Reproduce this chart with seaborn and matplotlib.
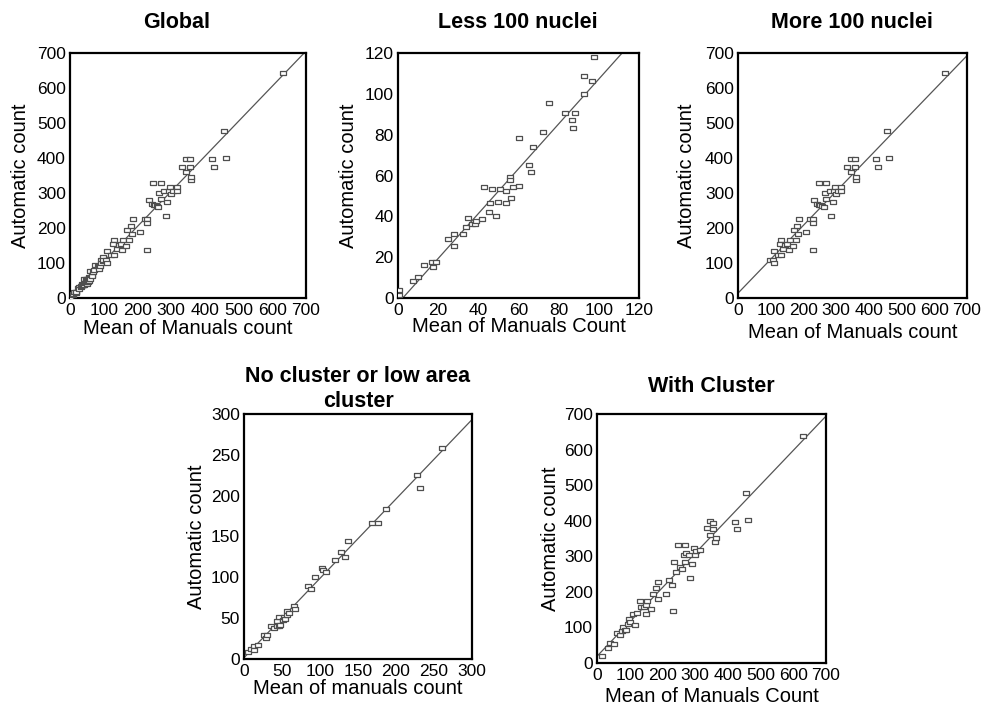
import numpy as np
import pandas as pd
import matplotlib
matplotlib.use("Agg")
import matplotlib.pyplot as plt
import seaborn as sns

sns.set_theme(style="white")
plt.rcParams["font.family"] = ["Liberation Sans", "DejaVu Sans"]

# Samples with fewer than 100 nuclei: mean manual count vs automatic count
less_manual = [0.5, 0.5, 7.5, 10, 12.8, 17, 17.6, 19, 25, 28, 28, 32.5, 34, 35, 37,
               38.5, 39, 42, 43, 45.3, 46, 47, 49, 49.8, 50.6, 53.8, 54, 55.6, 55.6,
               56.3, 57.3, 60, 60.4, 65, 66, 67.4, 72, 75, 83.3, 86.6, 87.3, 88, 92.6,
               92.6, 96.4, 97.4]
less_auto = [3.8, 1.3, 8.3, 10.3, 16, 17.6, 15.2, 17.6, 29, 31.5, 25.5, 31.5, 35, 39,
             36.4, 36.4, 37.5, 38.5, 54.4, 42, 46.5, 53.2, 40, 47, 53.2, 46.5, 52.4,
             59.3, 57.6, 49, 54.4, 54.9, 78.2, 65.3, 61.7, 74, 81.3, 95.5, 90.6, 87.3,
             83.3, 90.6, 108.6, 100, 106.4, 118]

# Samples with more than 100 nuclei
more_manual = [99, 106, 111, 109, 121, 131, 131, 129, 138, 145, 150, 155, 158, 167,
               170, 176, 180, 184, 187, 209, 221, 229, 229, 228, 233, 242, 247, 249,
               252, 257, 262, 265, 270, 270, 280, 284, 289, 293, 298, 300, 306, 316,
               316, 333, 344, 345, 357, 357, 360, 360, 422, 427, 463, 456, 632]
more_auto = [108, 108, 100, 135, 124, 122, 167, 153, 140, 151, 154, 137, 167, 149,
             194, 167, 206, 184, 225, 189, 227, 227, 215, 138, 280, 270, 330, 265,
             265, 264, 261, 299, 330, 283, 307, 235, 275, 306, 318, 297, 307, 318,
             306, 375, 359, 396, 396, 375, 337, 347, 396, 375, 401, 478, 643]

# Samples without cluster or with low-area cluster
nocl_manual = [5, 9, 13, 13, 19, 26, 29, 30, 35, 39, 43, 44, 46, 46, 48, 51, 53, 54,
               56, 57, 59, 66, 67, 84, 88, 93, 102, 104, 108, 120, 128, 133, 137, 168,
               176, 187, 228, 231, 260]
nocl_auto = [8, 12, 16, 11, 17, 29, 26, 30, 40, 38, 40, 46, 52, 40, 42, 48, 52, 49,
             59, 54, 56, 65, 61, 90, 86, 101, 111, 109, 106, 121, 131, 125, 144, 167,
             167, 184, 225, 210, 258]

# Samples with cluster
clus_manual = [15, 35, 41, 53, 61, 69, 76, 78, 85, 90, 96, 98, 100, 110, 115, 122,
               131, 134, 143, 149, 151, 153, 166, 171, 180, 185, 187, 210, 220, 228,
               231, 235, 243, 249, 253, 261, 268, 265, 268, 273, 282, 284, 289, 296,
               301, 304, 314, 335, 345, 346, 356, 356, 361, 363, 421, 427, 462, 454,
               631]
clus_auto = [19, 43, 55, 53, 83, 78, 89, 102, 92, 94, 111, 125, 116, 139, 106, 141,
             174, 158, 158, 164, 139, 174, 153, 195, 210, 181, 228, 194, 233, 219,
             146, 283, 257, 332, 271, 263, 332, 304, 285, 309, 304, 238, 278, 322,
             304, 315, 318, 379, 398, 359, 393, 377, 341, 351, 396, 377, 402, 479,
             639]

global_manual = less_manual + more_manual
global_auto = less_auto + more_auto

W, H = 983, 709
fig = plt.figure(figsize=(W / 100, H / 100), dpi=100)

MARK = "#4f4f4f"
LINE = "#555555"
# slightly wide open rectangle marker
RECT = [(-1.35, -1.0), (1.35, -1.0), (1.35, 1.0), (-1.35, 1.0), (-1.35, -1.0)]


def box(l, r, t, b):
    return [l / W, 1 - b / H, (r - l) / W, (b - t) / H]


panels = [
    # title, xlabel, x, y, lim, step, (l, r, t, b), title centre (x, y), xlabel y, ylabel x
    ("Global", "Mean of Manuals count", global_manual, global_auto, 700, 100,
     (70, 306, 53, 298), (177, 23), 329, 21),
    ("Less 100 nuclei", "Mean of Manuals Count", less_manual, less_auto, 120, 20,
     (398, 639, 53, 298), (518, 23), 327, 348),
    ("More 100 nuclei", "Mean of Manuals count", more_manual, more_auto, 700, 100,
     (738, 967, 53, 298), (852, 23), 333, 686),
    ("No cluster or low area\ncluster", "Mean of manuals count", nocl_manual, nocl_auto,
     300, 50, (244, 472, 414, 659), (358, 389), 688, 197),
    ("With Cluster", "Mean of Manuals Count", clus_manual, clus_auto, 700, 100,
     (597, 826, 414, 663), (711, 387), 697, 551),
]

for title, xlab, xs, ys, lim, step, (l, r, t, b), (tx, ty), xly, ylx in panels:
    ax = fig.add_axes(box(l, r, t, b))
    ax.set_xlim(0, lim)
    ax.set_ylim(0, lim)
    df = pd.DataFrame({"manual": xs, "auto": ys})
    sns.regplot(data=df, x="manual", y="auto", ax=ax, ci=None, truncate=False,
                marker=RECT,
                scatter_kws=dict(s=16, facecolors="white", edgecolors=MARK,
                                 linewidths=0.9, alpha=1, zorder=3),
                line_kws=dict(color=LINE, lw=0.9, zorder=2))
    ax.set_xlim(0, lim)
    ax.set_ylim(0, lim)
    ticks = np.arange(0, lim + 1, step)
    ax.set_xticks(ticks)
    ax.set_yticks(ticks)
    ax.tick_params(axis="both", direction="out", length=2.5, width=2, color="black",
                   labelsize=12.5, labelcolor="black")
    ax.tick_params(axis="y", pad=0.5)
    ax.tick_params(axis="x", pad=1.0)
    for sp in ax.spines.values():
        sp.set_color("black")
        sp.set_linewidth(1.6)
    ax.set_xlabel(xlab, fontsize=14.5, color="black", va="center")
    ax.set_ylabel("Automatic count", fontsize=14.5, color="black", va="center")
    ax.xaxis.set_label_coords(0.5, -(xly - b) / (b - t))
    ax.yaxis.set_label_coords((ylx - l) / (r - l), 0.5)
    fig.text(tx / W, 1 - ty / H, title, ha="center", va="center",
             fontsize=15.5, fontweight="bold", color="black", linespacing=1.25)

fig.savefig("out.png", dpi=100, facecolor="white")
